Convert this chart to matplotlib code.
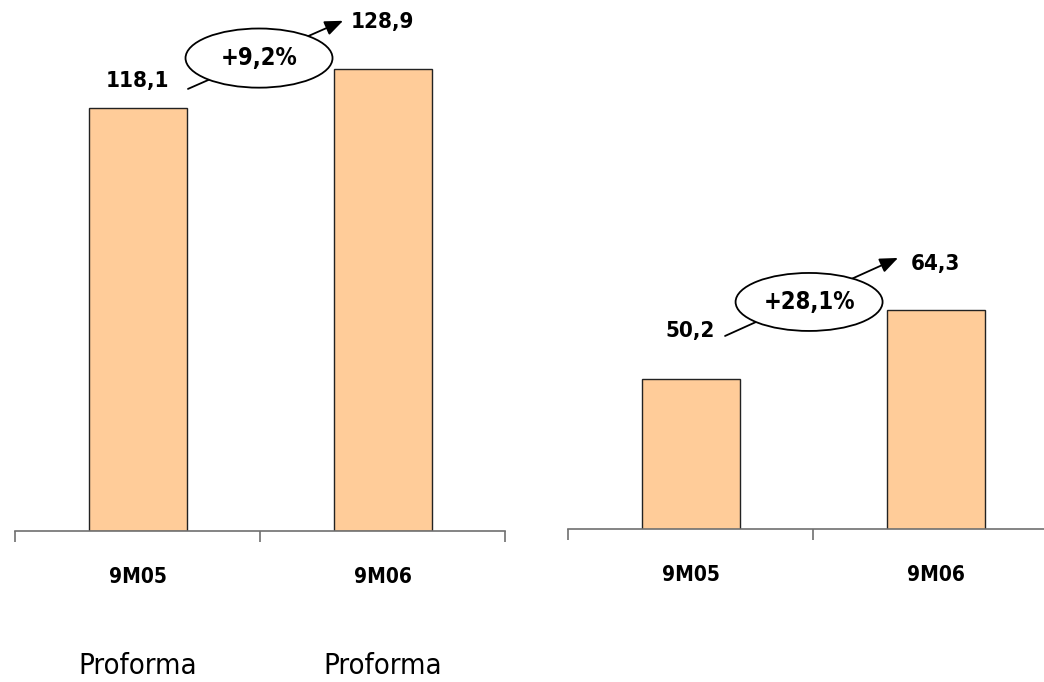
import matplotlib
matplotlib.use("Agg")
import matplotlib.pyplot as plt
from matplotlib.patches import Ellipse

# data
categories = ["9M05", "9M06"]
left_values = [118.1, 128.9]
right_values = [50.2, 64.3]
left_labels = ["118,1", "128,9"]
right_labels = ["50,2", "64,3"]
left_growth = "+9,2%"
right_growth = "+28,1%"
sub_labels = ["Proforma", "Proforma"]

BAR_COLOR = "#FFCC99"
AXIS_COLOR = "#707070"

plt.rcParams["font.family"] = ["DejaVu Sans"]

fig = plt.figure(figsize=(10.44, 6.82), dpi=100)

W, H = 1044.0, 682.0
ax_l = fig.add_axes([15 / W, 1 - 531 / H, 490 / W, 531 / H])
ax_r = fig.add_axes([568 / W, 1 - 529 / H, 490 / W, 529 / H])


def style_axis(ax, ylim):
    x = range(len(categories))
    ax.set_xlim(-0.5, len(categories) - 0.5)
    ax.set_ylim(*ylim)
    for side in ("top", "right", "left"):
        ax.spines[side].set_visible(False)
    ax.spines["bottom"].set_color(AXIS_COLOR)
    ax.spines["bottom"].set_linewidth(1.2)
    ax.set_yticks([])
    # boundary ticks between categories
    ax.set_xticks([i - 0.5 for i in range(len(categories) + 1)])
    ax.set_xticklabels([])
    ax.tick_params(axis="x", direction="out", length=8, width=1.2, color=AXIS_COLOR)
    ax.set_xticks(list(x), minor=True)
    ax.set_xticklabels(categories, minor=True, fontsize=15, fontweight="bold",
                       fontstretch="condensed")
    ax.tick_params(axis="x", which="minor", length=0, pad=26)
    ax.patch.set_visible(False)


def draw_panel(ax, values, labels, offsets, growth, ylim, arrow, ell):
    style_axis(ax, ylim)
    x = list(range(len(values)))
    ax.bar(x, values, width=0.4, color=BAR_COLOR, edgecolor="#222222",
           linewidth=1.0, zorder=2)
    for xi, v, lab, off in zip(x, values, labels, offsets):
        ax.annotate(lab, (xi, v), xytext=(0, off), textcoords="offset points",
                    ha="center", va="center", fontsize=16, fontweight="bold",
                    fontstretch="condensed", annotation_clip=False)
    (x0, y0), (x1, y1) = arrow
    ax.annotate("", xy=(x1, y1), xytext=(x0, y0),
                arrowprops=dict(arrowstyle="-|>,head_length=1.1,head_width=0.45",
                                color="black", lw=1.3, shrinkA=0, shrinkB=0),
                annotation_clip=False, zorder=3)
    (cx, cy), (ew, eh) = ell
    ax.add_patch(Ellipse((cx, cy), ew, eh, facecolor="white", edgecolor="black",
                         linewidth=1.3, zorder=4, clip_on=False))
    ax.text(cx, cy, growth, ha="center", va="center", fontsize=17,
            fontweight="bold", fontstretch="condensed", zorder=5)


draw_panel(ax_l, left_values, left_labels, [19, 34], left_growth,
           (0, 148.1),
           ((0.206, 123.3), (0.839, 142.3)),
           ((0.496, 131.9), (0.60, 16.5)))
draw_panel(ax_r, right_values, right_labels, [34, 33], right_growth,
           (19.35, 127.9),
           ((0.141, 58.96), (0.847, 74.97)),
           ((0.484, 65.94), (0.60, 11.9)))

for i, lab in enumerate(sub_labels):
    ax_l.annotate(lab, (i, 0), xycoords=("data", "axes fraction"),
                  xytext=(0, -103), textcoords="offset points",
                  ha="center", va="baseline", fontsize=21,
                  fontstretch="condensed", annotation_clip=False)

fig.savefig("out.png", dpi=100)
